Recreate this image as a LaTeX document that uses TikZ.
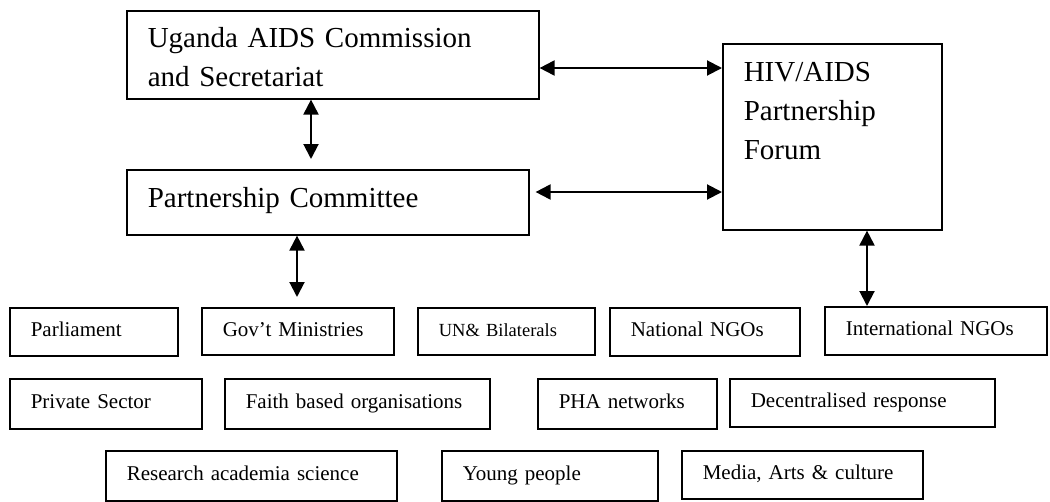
\documentclass[tikz,border=0pt]{standalone}
\usepackage{fontspec}
\setmainfont{Liberation Serif}
\usetikzlibrary{arrows.meta}
\tikzset{
  bx/.style={draw, line width=1.6pt, anchor=north west, inner xsep=21pt, inner ysep=0pt, align=left},
  big/.style={bx, font=\fontsize{29}{39}\selectfont},
  small/.style={bx, font=\fontsize{21}{25}\selectfont, text height=15pt, text depth=5pt},
  dbl/.style={line width=2pt, {Triangle[length=15pt,width=15pt]}-{Triangle[length=15pt,width=15pt]}}
}
\begin{document}
\begin{tikzpicture}[x=1pt,y=-1pt]
\useasboundingbox (0,0) rectangle (1050,501);
% main boxes
\node[big, text width=370pt, minimum height=88pt, text height=25pt, text depth=39pt] (uac) at (126,10) {Uganda AIDS Commission\\and Secretariat};
\node[big, text width=360pt, minimum height=65pt, text height=25pt, text depth=15pt] (pc) at (126,169) {Partnership Committee};
\node[big, text width=177pt, minimum height=186pt, text height=25pt, text depth=135pt] (hiv) at (722,43) {HIV/AIDS\\Partnership\\Forum};
% row 1
\node[small, text width=126pt, minimum height=48pt] (parl) at (9,307) {Parliament};
\node[small, text width=150pt, minimum height=47pt] (gov) at (201,307) {Gov’t Ministries};
\node[small, text width=135pt, minimum height=47pt, font=\fontsize{18.5}{22}\selectfont] (un) at (417,307) {UN\& Bilaterals};
\node[small, text width=148pt, minimum height=48pt] (nat) at (609,307) {National NGOs};
\node[small, text width=180pt, minimum height=48pt] (intl) at (824,306) {International NGOs};
% row 2
\node[small, text width=150pt, minimum height=50pt] (priv) at (9,378) {Private Sector};
\node[small, text width=223pt, minimum height=50pt] (faith) at (224,378) {Faith based organisations};
\node[small, text width=137pt, minimum height=50pt] (pha) at (537,378) {PHA networks};
\node[small, text width=223pt, minimum height=48pt] (dec) at (729,378) {Decentralised response};
% row 3
\node[small, text width=249pt, minimum height=50pt] (res) at (105,450) {Research academia science};
\node[small, text width=174pt, minimum height=50pt] (young) at (441,450) {Young people};
\node[small, text width=199pt, minimum height=48pt] (media) at (681,450) {Media, Arts \& culture};
% connector guides
\coordinate (cx1) at (311,0);
\coordinate (cx2) at (297,0);
\coordinate (cx3) at (867,0);
\coordinate (cy1) at (0,68);
\coordinate (cy2) at (0,192);
% connectors
\draw[dbl, shorten >=10pt] (uac.south -| cx1) -- (pc.north -| cx1);
\draw[dbl] (uac.east |- cy1) -- (hiv.west |- cy1);
\draw[dbl, shorten <=6pt] (pc.east |- cy2) -- (hiv.west |- cy2);
\draw[dbl, shorten >=10pt] (pc.south -| cx2) -- (gov.north -| cx2);
\draw[dbl] (hiv.south -| cx3) -- (intl.north -| cx3);
\end{tikzpicture}
\end{document}
